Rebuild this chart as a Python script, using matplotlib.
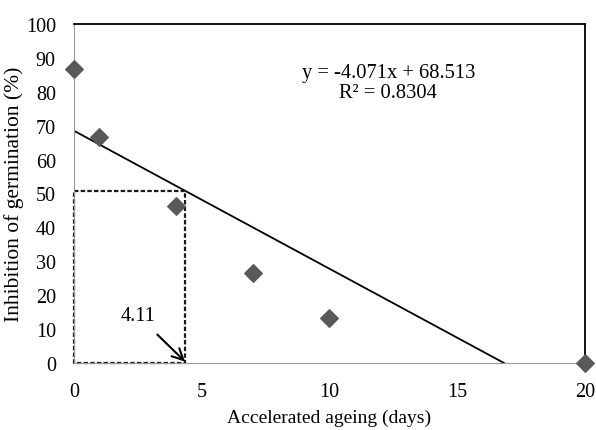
import matplotlib
matplotlib.use('Agg')
import matplotlib.pyplot as plt

# Observed inhibition values
days = [0, 1, 4, 7, 10, 20]
inhibition = [86.8, 66.8, 46.4, 26.5, 13.3, 0]

# Linear fit reported on the chart
slope = -4.071
intercept = 68.513
fit_end = -intercept / slope
ref_x = 4.35
ref_y = slope * ref_x + intercept

plt.rcParams['font.family'] = 'Liberation Serif'

fig = plt.figure(figsize=(5.96, 4.31), dpi=100)
ax = fig.add_axes([0.124, 0.1555, 0.8575, 0.7865])

ax.plot([0, fit_end], [intercept, 0], color='black', lw=1.3, zorder=2)
ax.plot([0, ref_x, ref_x, 0, 0], [ref_y, ref_y, 0, 0, ref_y], color='#1a1a1a',
        lw=1.6, ls=(0, (2.0, 1.0)), zorder=2, clip_on=False)
ax.scatter(days, inhibition, marker='D', s=80, color='#595959', zorder=3, clip_on=False)

ax.annotate('4.11', xy=(ref_x, 0.4), xytext=(2.5, 14.0), fontsize=14.5, ha='center', va='center',
            arrowprops=dict(arrowstyle='->', color='black', lw=1.5, shrinkA=7, shrinkB=0,
                            mutation_scale=20))

ax.text(12.3, 85.7, 'y = -4.071x + 68.513', fontsize=14.8, ha='center', va='center')
ax.text(12.3, 79.8, 'R² = 0.8304', fontsize=14.8, ha='center', va='center')

ax.set_xlim(0, 20)
ax.set_ylim(0, 100)
ax.set_xticks([0, 5, 10, 15, 20])
ax.set_yticks(range(0, 101, 10))
ax.tick_params(length=0, labelsize=14.5)
ax.tick_params(axis='x', pad=14)
ax.tick_params(axis='y', pad=13)
ax.set_xlabel('Accelerated ageing (days)', fontsize=14, labelpad=5.5)
ax.set_ylabel('Inhibition of germination (%)', fontsize=15.5, labelpad=1)

for side in ['left', 'bottom']:
    ax.spines[side].set_color('#999999')
for side in ['top', 'right']:
    ax.spines[side].set_color('black')
    ax.spines[side].set_linewidth(1.3)

fig.savefig('out.png', dpi=100)
